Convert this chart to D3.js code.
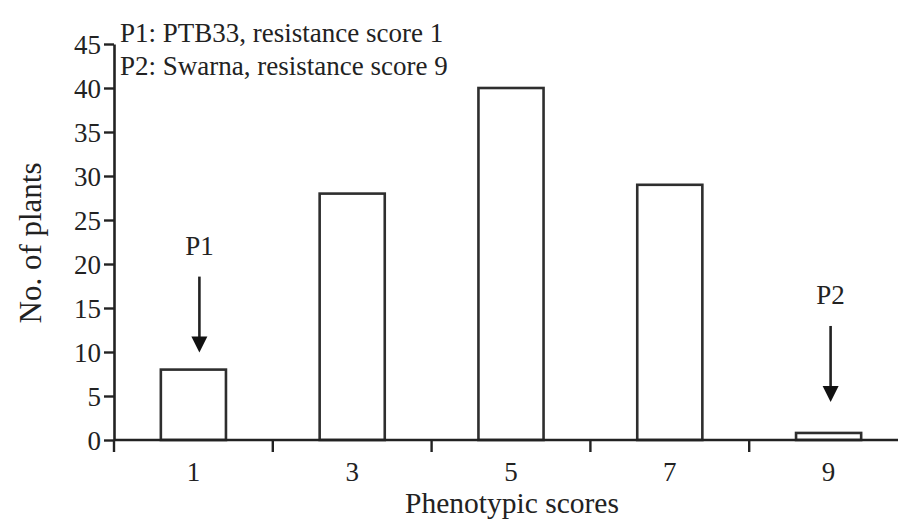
<!DOCTYPE html>
<html>
<head>
<meta charset="utf-8">
<script src="https://cdn.jsdelivr.net/npm/d3@7"></script>
<style>
  body { margin: 0; background: #fff; }
</style>
</head>
<body>
<script>
// data
var scores = ["1", "3", "5", "7", "9"];
var plants = [8, 28, 40, 29, 0.8];
var yTicks = [0, 5, 10, 15, 20, 25, 30, 35, 40, 45];
var legendLines = ["P1: PTB33, resistance score 1", "P2: Swarna, resistance score 9"];
var parents = ["P1", "P2"];
var parentScores = ["1", "9"];

var W = 898, H = 520;
var plotLeft = 114, plotBottom = 440, plotTop = 44;
var FONT = "'Liberation Serif', 'Times New Roman', serif";
var INK = "#222";

var svg = d3.select("body").append("svg")
    .attr("width", W)
    .attr("height", H)
    .style("font-family", FONT);

var x = d3.scaleBand()
    .domain(scores)
    .range([plotLeft, plotLeft + 5 * 158.8])
    .paddingInner(0.59)
    .paddingOuter(0.295);

var y = d3.scaleLinear()
    .domain([0, 45])
    .range([plotBottom, plotTop]);

// bars
svg.selectAll(".bar")
    .data(plants)
  .enter().append("rect")
    .attr("class", "bar")
    .attr("x", (d, i) => x(scores[i]))
    .attr("y", d => y(d))
    .attr("width", x.bandwidth())
    .attr("height", d => y(0) - y(d))
    .attr("fill", "#fff")
    .attr("stroke", "#2e2e2e")
    .attr("stroke-width", 2.6);

// y axis
var yAxis = svg.append("g")
    .attr("transform", "translate(" + plotLeft + ",0)")
    .call(d3.axisLeft(y).tickValues(yTicks).tickSize(10).tickSizeOuter(0).tickPadding(3));
yAxis.attr("font-family", null);
yAxis.select(".domain").attr("stroke", INK).attr("stroke-width", 2.6);
yAxis.selectAll(".tick line").attr("stroke", INK).attr("stroke-width", 2.4);
yAxis.selectAll(".tick text")
    .attr("fill", INK)
    .attr("dy", "0.34em")
    .style("font-family", FONT)
    .style("font-size", "27px");

// x axis, ticks sit between the categories
var xAxis = svg.append("g")
    .attr("transform", "translate(0," + y(0) + ")");
xAxis.append("line")
    .attr("x1", plotLeft).attr("x2", W)
    .attr("stroke", INK).attr("stroke-width", 2.6);
xAxis.selectAll(".xt")
    .data(d3.range(0, scores.length))
  .enter().append("line")
    .attr("x1", i => plotLeft + i * x.step()).attr("x2", i => plotLeft + i * x.step())
    .attr("y1", 0).attr("y2", 12)
    .attr("stroke", INK).attr("stroke-width", 2.4);
xAxis.selectAll(".xl")
    .data(scores)
  .enter().append("text")
    .attr("x", d => x(d) + x.bandwidth() / 2)
    .attr("y", 41)
    .attr("text-anchor", "middle")
    .attr("fill", INK)
    .style("font-size", "27px")
    .text(d => d);

// axis titles
svg.append("text")
    .attr("x", 512).attr("y", 513)
    .attr("text-anchor", "middle")
    .attr("fill", INK)
    .style("font-size", "29.5px")
    .text("Phenotypic scores");

svg.append("text")
    .attr("transform", "translate(41,243) rotate(-90)")
    .attr("text-anchor", "middle")
    .attr("fill", INK)
    .style("font-size", "31px")
    .text("No. of plants");

// legend
svg.selectAll(".leg")
    .data(legendLines)
  .enter().append("text")
    .attr("x", 120)
    .attr("y", (d, i) => 42 + i * 33)
    .attr("fill", INK)
    .style("font-size", "27px")
    .text(d => d);

// parent arrows (gap above bar and nudge right, in px)
var gap = [17, 31], nudge = [6, 2];
var ax = i => x(parentScores[i]) + x.bandwidth() / 2 + nudge[i];
var tip = i => y(plants[scores.indexOf(parentScores[i])]) - gap[i];

var ann = svg.selectAll(".ann")
    .data(parents)
  .enter().append("g")
    .attr("class", "ann");

ann.append("text")
    .attr("x", (d, i) => ax(i))
    .attr("y", (d, i) => tip(i) - 98)
    .attr("text-anchor", "middle")
    .attr("fill", INK)
    .style("font-size", "27px")
    .text(d => d);

ann.append("line")
    .attr("x1", (d, i) => ax(i)).attr("x2", (d, i) => ax(i))
    .attr("y1", (d, i) => tip(i) - 76)
    .attr("y2", (d, i) => tip(i) - 12)
    .attr("stroke", INK)
    .attr("stroke-width", 2.6);

ann.append("path")
    .attr("d", (d, i) => "M" + (ax(i) - 8) + "," + (tip(i) - 16) +
        "L" + (ax(i) + 8) + "," + (tip(i) - 16) +
        "L" + ax(i) + "," + tip(i) + "Z")
    .attr("fill", "#111");
</script>
</body>
</html>
